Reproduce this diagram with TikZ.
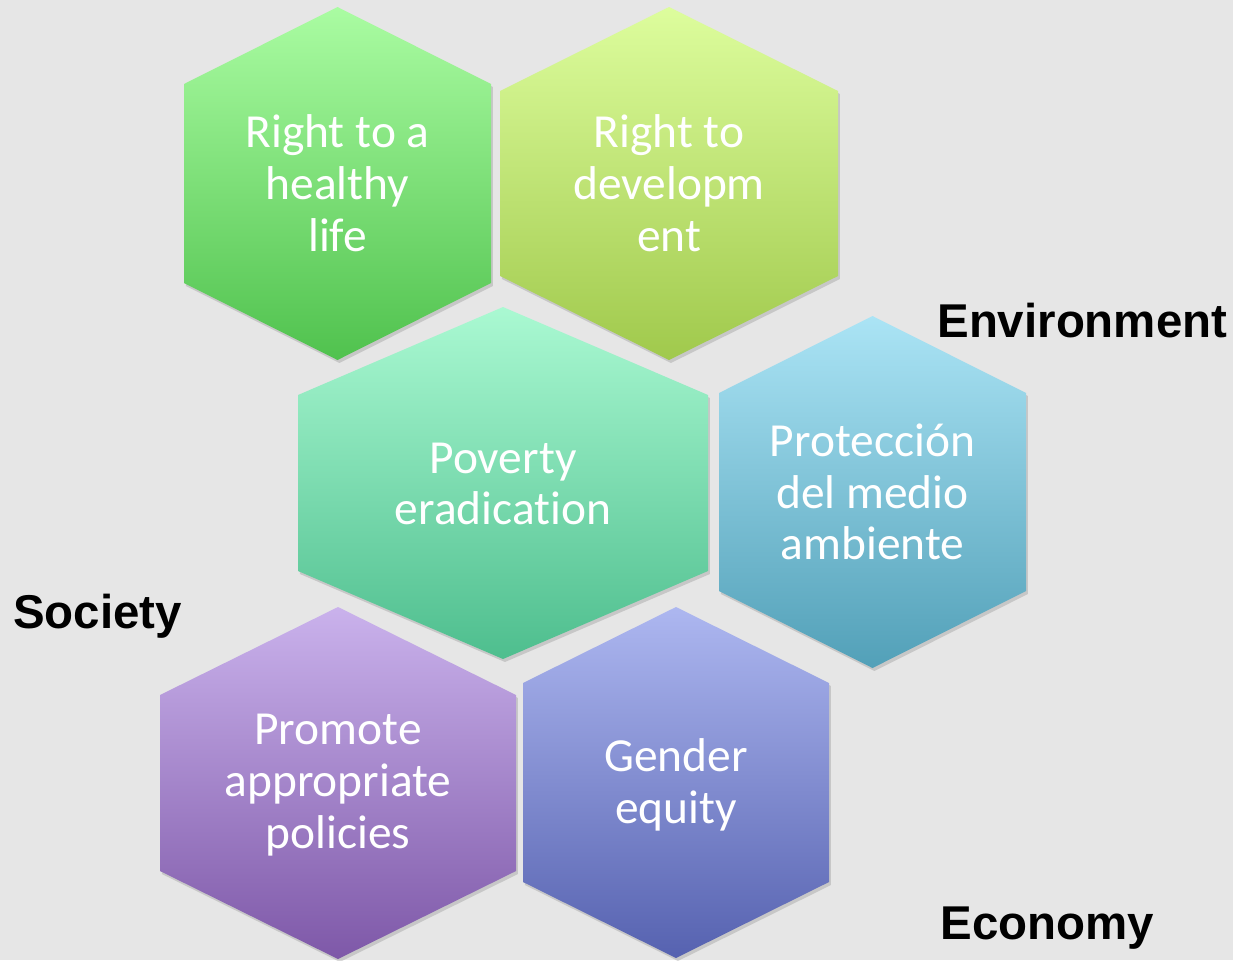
\documentclass[tikz,border=0pt]{standalone}
\usepackage{fontspec}
\setmainfont{Carlito}[Ligatures=NoCommon]
\newfontfamily\arialnegrita{Liberation Sans}
\usetikzlibrary{shadows}

\definecolor{fondo}{RGB}{230,230,230}
\definecolor{verdeA}{RGB}{170,252,162}
\definecolor{verdeB}{RGB}{80,194,78}
\definecolor{limaA}{RGB}{221,253,157}
\definecolor{limaB}{RGB}{160,201,76}
\definecolor{mentaA}{RGB}{170,249,210}
\definecolor{mentaB}{RGB}{78,190,142}
\definecolor{celesteA}{RGB}{171,228,245}
\definecolor{celesteB}{RGB}{82,160,184}
\definecolor{lilaA}{RGB}{202,178,236}
\definecolor{lilaB}{RGB}{126,88,168}
\definecolor{azulA}{RGB}{173,183,240}
\definecolor{azulB}{RGB}{86,98,176}

\tikzset{
  hexagono/.style={draw=none, drop shadow={opacity=0.3, shadow xshift=1.1pt, shadow yshift=-1.7pt}},
  texto/.style={text=white, align=center, inner sep=0pt, font=\fontsize{27}{29.5}\selectfont},
  etiqueta/.style={anchor=base west, inner sep=0pt, font=\arialnegrita\bfseries\fontsize{27}{30}\selectfont}
}

\begin{document}
\begin{tikzpicture}[x=0.02cm, y=-0.02cm]
  % Fondo
  \fill[fondo] (0,0) rectangle (1233,960);
  \useasboundingbox (0,0) rectangle (1233,960);

  % Right to a healthy life
  \path[hexagono, top color=verdeA, bottom color=verdeB]
    (337.5,7) -- (491,84) -- (491,283) -- (337.5,360) -- (184,283) -- (184,84) -- cycle;
  \node[texto] (salud) at (337.5,183.5) {Right to a\\healthy\\life};

  % Right to development
  \path[hexagono, top color=limaA, bottom color=limaB]
    (669,7) -- (838,91) -- (838,276) -- (669,360) -- (500,276) -- (500,91) -- cycle;
  \node[texto] (desarrollo) at (669,183.5) {Right to\\developm\\ent};

  % Poverty eradication
  \path[hexagono, top color=mentaA, bottom color=mentaB]
    (503,307) -- (708,395) -- (708,571) -- (503,659) -- (298,571) -- (298,395) -- cycle;
  \node[texto] (pobreza) at (503,484) {Poverty\\eradication};

  % Proteccion del medio ambiente
  \path[hexagono, top color=celesteA, bottom color=celesteB]
    (872.5,316) -- (1026,393) -- (1026,591) -- (872.5,668) -- (719,591) -- (719,393) -- cycle;
  \node[texto] (ambiente) at (872.5,492) {Protección\\del medio\\ambiente};

  % Promote appropriate policies
  \path[hexagono, top color=lilaA, bottom color=lilaB]
    (338,607) -- (516,695) -- (516,871) -- (338,959) -- (160,871) -- (160,695) -- cycle;
  \node[texto] (politicas) at (338,785) {Promote\\appropriate\\policies};

  % Gender equity
  \path[hexagono, top color=azulA, bottom color=azulB]
    (676,607) -- (829,683) -- (829,882) -- (676,958) -- (523,882) -- (523,683) -- cycle;
  \node[texto] (genero) at (676,785) {Gender\\equity};

  % Etiquetas
  \node[etiqueta] (environment) at (937,337) {Environment};
  \node[etiqueta] (society) at (13,628) {Society};
  \node[etiqueta] (economy) at (940,939) {Economy};
\end{tikzpicture}
\end{document}
